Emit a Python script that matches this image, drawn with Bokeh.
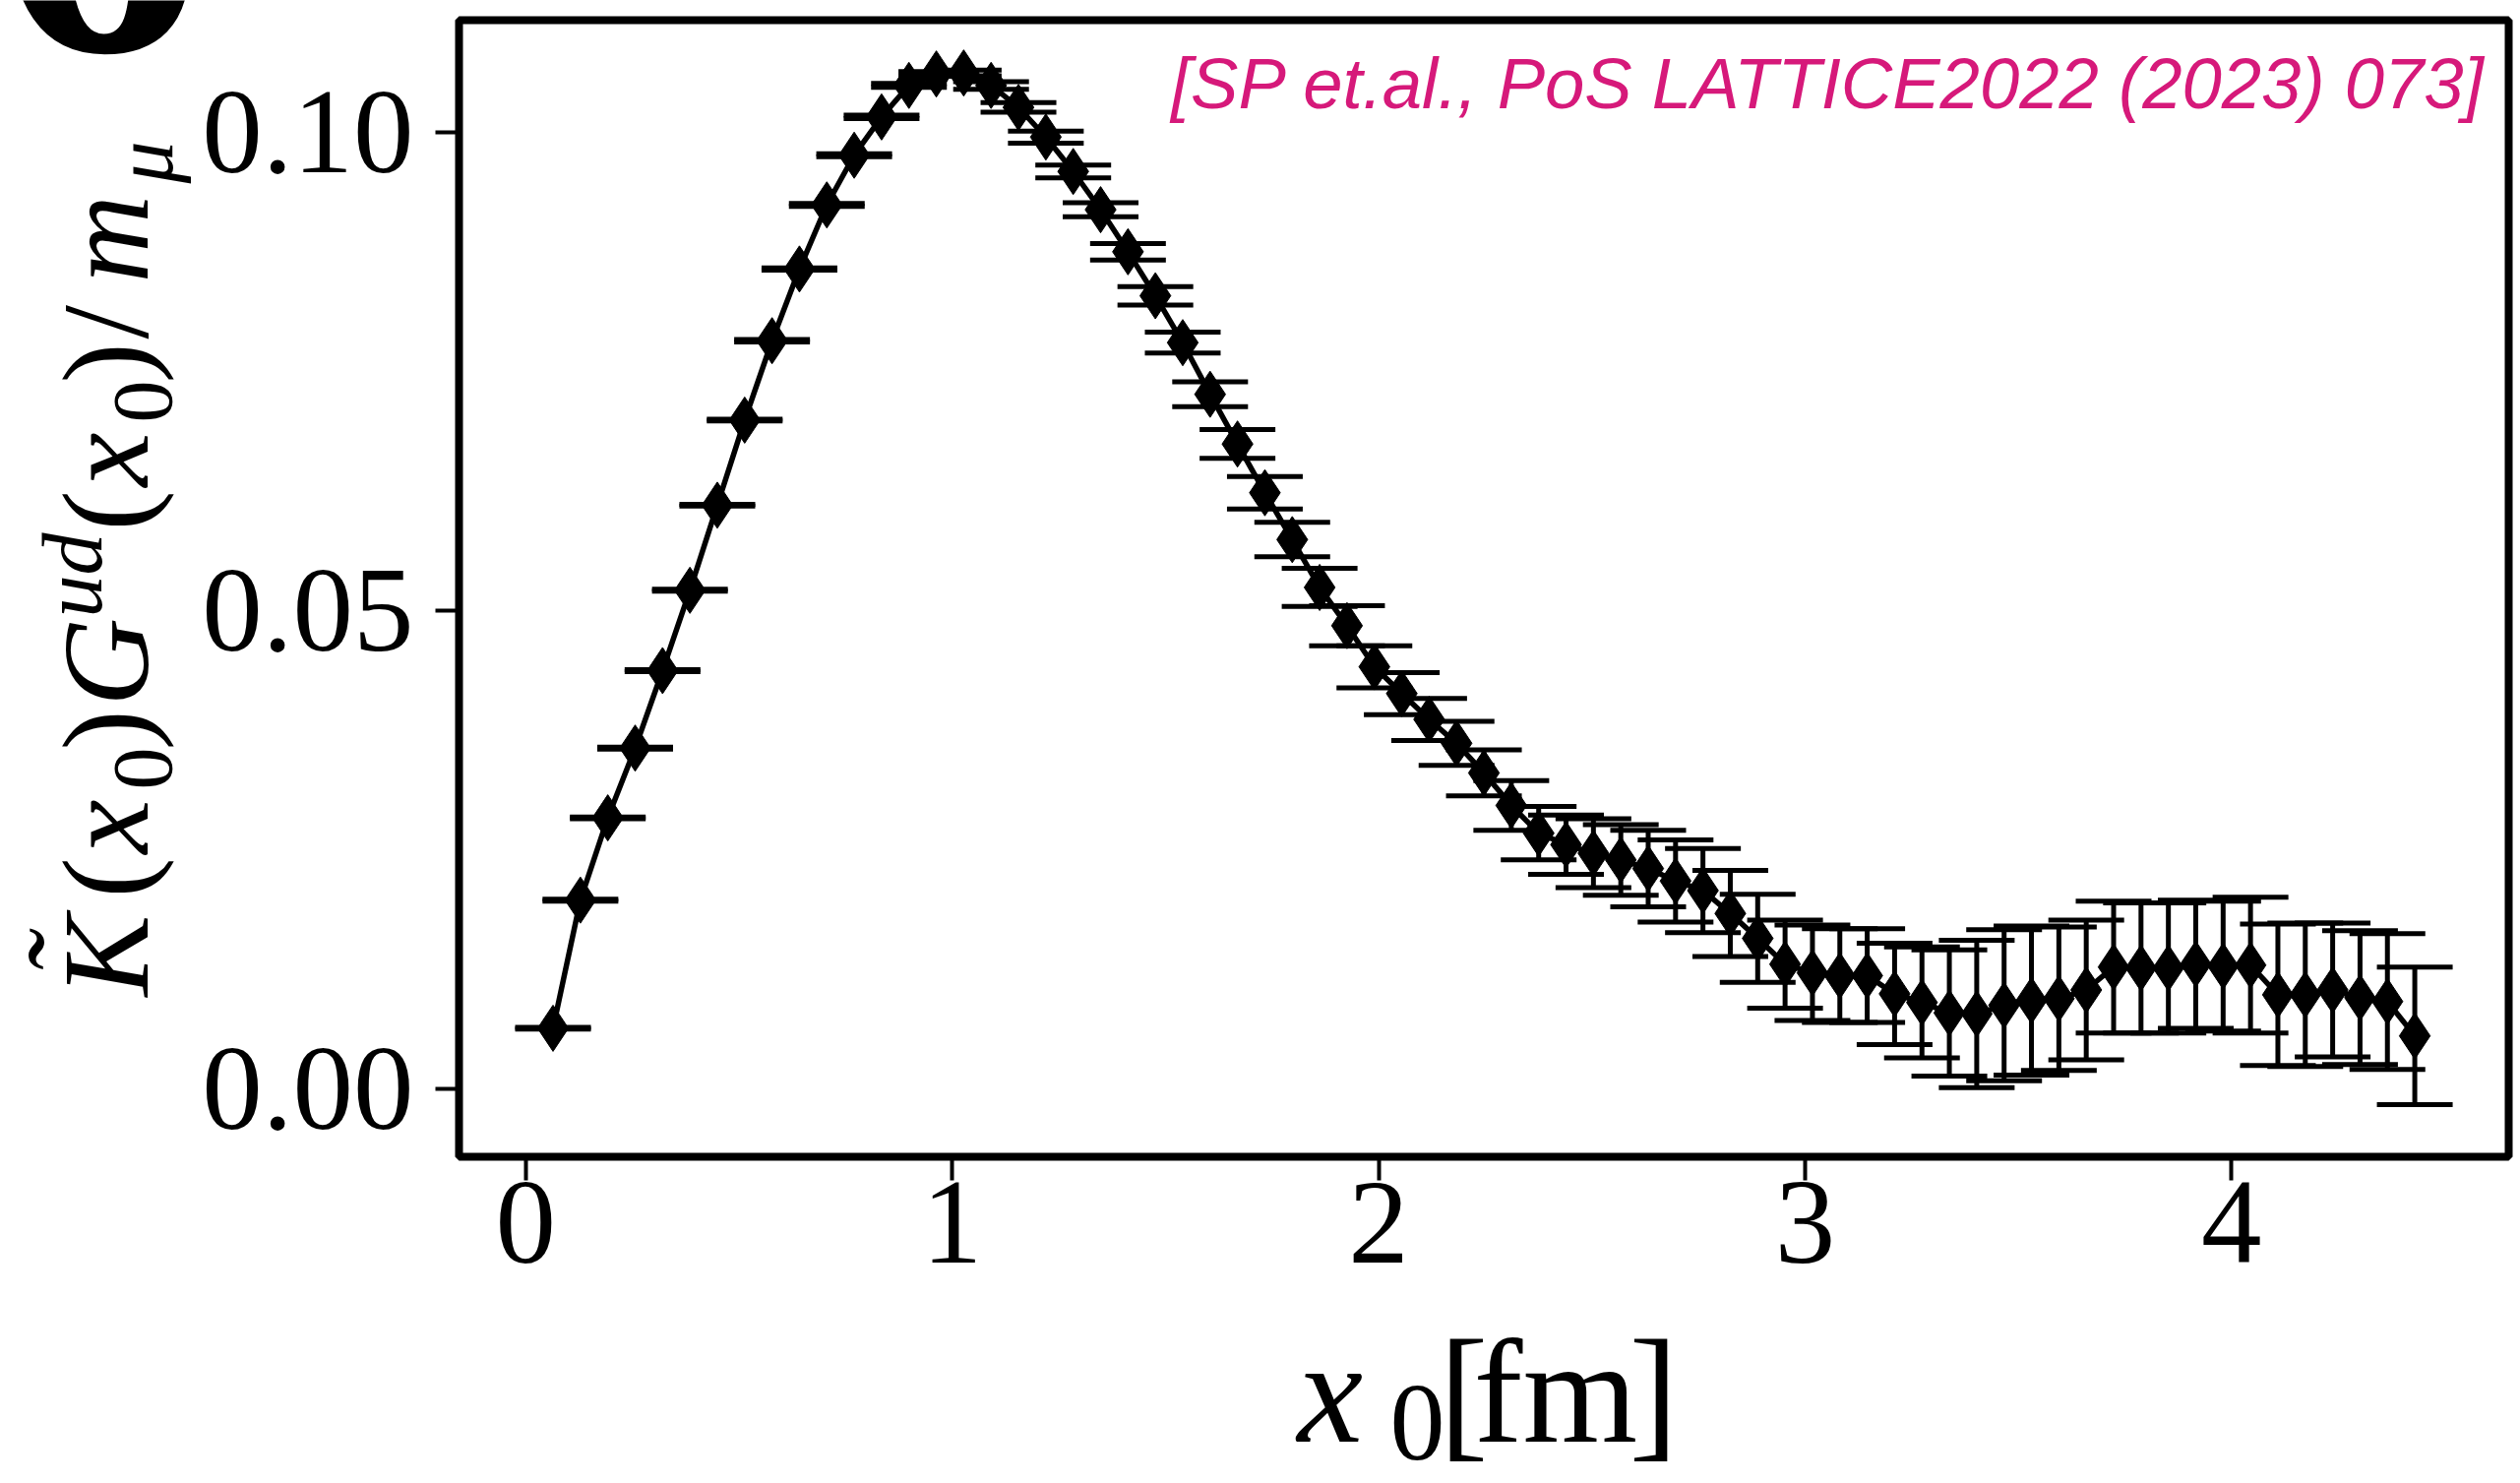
import math

from bokeh.plotting import figure
from bokeh.models import Range1d, Label, FixedTicker, PrintfTickFormatter, BoxAnnotation
from bokeh.embed import file_html
from bokeh.resources import INLINE

# Euclidean time x0 in fm (one entry per lattice time slice)
x0_fm = [
    0.0642, 0.1284, 0.1926, 0.2568, 0.3210, 0.3852, 0.4494, 0.5136, 0.5778, 0.6420,
    0.7062, 0.7704, 0.8346, 0.8988, 0.9630, 1.0272, 1.0914, 1.1556, 1.2198, 1.2840,
    1.3482, 1.4124, 1.4766, 1.5408, 1.6050, 1.6692, 1.7334, 1.7976, 1.8618, 1.9260,
    1.9902, 2.0544, 2.1186, 2.1828, 2.2470, 2.3112, 2.3754, 2.4396, 2.5038, 2.5680,
    2.6322, 2.6964, 2.7606, 2.8248, 2.8890, 2.9532, 3.0174, 3.0816, 3.1458, 3.2100,
    3.2742, 3.3384, 3.4026, 3.4668, 3.5310, 3.5952, 3.6594, 3.7236, 3.7878, 3.8520,
    3.9162, 3.9804, 4.0446, 4.1088, 4.1730, 4.2372, 4.3014, 4.3656, 4.4298,
]

# Integrand K(x0) G^ud(x0) / m_mu
integrand = [
    0.0063, 0.0197, 0.0283, 0.0356, 0.0437, 0.0521, 0.0610, 0.0699, 0.0782, 0.0857,
    0.0924, 0.0976, 0.1016, 0.1049, 0.1061, 0.1062, 0.1049, 0.1026, 0.0995, 0.0959,
    0.0919, 0.0875, 0.0829, 0.0780, 0.0726, 0.0674, 0.0623, 0.0574, 0.0524, 0.0484,
    0.0441, 0.0413, 0.0386, 0.0361, 0.0330, 0.0296, 0.0267, 0.0255, 0.0246, 0.0239,
    0.0230, 0.0217, 0.0207, 0.0183, 0.0157, 0.0130, 0.0121, 0.0118, 0.0118, 0.0099,
    0.0090, 0.0079, 0.0078, 0.0087, 0.0092, 0.0094, 0.0103, 0.0127, 0.0126, 0.0126,
    0.0130, 0.0128, 0.0129, 0.0098, 0.0098, 0.0103, 0.0095, 0.0091, 0.0055,
]

# Statistical uncertainty of the integrand
integrand_err = [
    0.0001, 0.0001, 0.0001, 0.0001, 0.0001, 0.0001, 0.0001, 0.0001, 0.00012, 0.00012,
    0.00015, 0.00015, 0.00018, 0.0002, 0.00025, 0.0003, 0.0004, 0.0005, 0.00063, 0.00067,
    0.00074, 0.00086, 0.00096, 0.0011, 0.0013, 0.0015, 0.0017, 0.0018, 0.0020, 0.0021,
    0.0022, 0.0022, 0.0022, 0.0023, 0.0024, 0.0026, 0.0028, 0.0031, 0.0036, 0.0037,
    0.0040, 0.0043, 0.0044, 0.0045, 0.0046, 0.0046, 0.0050, 0.0049, 0.0049, 0.0053,
    0.0058, 0.0066, 0.0077, 0.0079, 0.0078, 0.0075, 0.0073, 0.0069, 0.0068, 0.0068,
    0.0067, 0.0068, 0.0071, 0.0074, 0.0075, 0.0070, 0.0070, 0.0071, 0.0072,
]

x_ticks = [0, 1, 2, 3, 4]
y_ticks = [0.0, 0.05, 0.10]
reference_note = "[SP et.al., PoS LATTICE2022 (2023) 073]"

# Canvas geometry: the data frame spans the whole canvas so that texts
# placed around the axes box are not clipped; the axes box is drawn inside.
W, H = 2561, 1507
PX_PER_FM = 433.4           # horizontal pixels per fm
PX_PER_UNIT = 9717.0        # vertical pixels per unit of the integrand
X_ZERO_PX, Y_ZERO_PX = 533.7, 1105.6

XA = -X_ZERO_PX / PX_PER_FM
XB = (W - X_ZERO_PX) / PX_PER_FM
YT = Y_ZERO_PX / PX_PER_UNIT
YB = (Y_ZERO_PX - H) / PX_PER_UNIT


def dx(px):
    """canvas pixel column -> data x"""
    return XA + px / W * (XB - XA)


def dy(py):
    """canvas pixel row -> data y"""
    return YT - py / H * (YT - YB)


# axes box edges (pixel rows/columns of the box lines)
BOX_L, BOX_R, BOX_T, BOX_B = 466, 2549, 20, 1175
X0, X1 = dx(BOX_L), dx(BOX_R)
Y0, Y1 = dy(BOX_B), dy(BOX_T)

p = figure(
    width=W, height=H, output_backend="svg", toolbar_location=None,
    x_range=Range1d(XA, XB), y_range=Range1d(YB, YT),
    min_border=0, min_border_left=0, min_border_right=0,
    min_border_top=0, min_border_bottom=0,
)
p.title.visible = False
p.background_fill_color = "white"
p.border_fill_color = "white"
p.grid.visible = False
p.outline_line_color = None

p.xaxis.fixed_location = Y0
p.yaxis.fixed_location = X0
p.xaxis.ticker = FixedTicker(ticks=x_ticks)
p.yaxis.ticker = FixedTicker(ticks=y_ticks)
p.xaxis.formatter = PrintfTickFormatter(format="%d")
p.yaxis.formatter = PrintfTickFormatter(format="%.2f")
for ax in p.axis:
    ax.axis_line_color = None
    ax.major_tick_in = 0
    ax.major_tick_out = 24
    ax.major_tick_line_width = 4
    ax.major_tick_line_color = "black"
    ax.minor_tick_line_color = None
    ax.major_label_text_font = "Liberation Serif"
    ax.major_label_text_font_size = "123px"
    ax.major_label_text_color = "black"
p.yaxis.major_label_standoff = 22
p.xaxis.major_label_standoff = 2

# error bars with wide caps
lo = [v - e for v, e in zip(integrand, integrand_err)]
hi = [v + e for v, e in zip(integrand, integrand_err)]
p.segment(x0=x0_fm, y0=lo, x1=x0_fm, y1=hi, line_color="black", line_width=5)
p.scatter(x0_fm, lo, marker="dash", size=77, line_color="black", line_width=5)
p.scatter(x0_fm, hi, marker="dash", size=77, line_color="black", line_width=5)

# connecting line and diamond markers
p.line(x0_fm, integrand, line_color="black", line_width=5.5)
p.scatter(x0_fm, integrand, marker="diamond", size=47,
          fill_color="black", line_color="black", line_width=1)

# axes box
p.add_layout(BoxAnnotation(left=X0, right=X1, bottom=Y0, top=Y1,
                           fill_color=None, fill_alpha=0.0,
                           line_color="black", line_alpha=1.0, line_width=8))

BASELINE_SHIFT = 0.36   # em offset between requested and drawn baseline


def put(text, px, py, size, style="normal", angle=0.0, font="Liberation Serif",
        color="black", align="left"):
    """place a text whose baseline starts at canvas pixel (px, py)"""
    if angle == 0.0:
        py = py - BASELINE_SHIFT * size
    else:
        px = px - BASELINE_SHIFT * size
    p.add_layout(Label(
        x=dx(px), y=dy(py), text=text, angle=angle,
        text_font=font, text_font_style=style, text_font_size=f"{size}px",
        text_color=color, text_align=align, text_baseline="alphabetic",
    ))


# citation note
put(reference_note, 2526, 110, 72.5, "italic", font="Liberation Sans",
    color="#D6197A", align="right")

# x-axis label  x_0[fm]
put("x", 1318, 1467, 150, "italic")
put("0", 1412, 1486, 112)
put("[", 1462, 1467, 150)
put("fm", 1497, 1467, 150)
put("]", 1655, 1467, 150)

# y-axis label  K~(x_0) G^ud(x_0) / m_mu, reading bottom to top
up = math.pi / 2
base, sub_base, sup_base = 153, 176, 104
put("K", base, 1012, 124, "italic", up)
put("\u02dc", 116, 992, 124, "italic", up)
put("(", base, 912, 124, "normal", up)
put("x", base, 867, 124, "italic", up)
put("0", sub_base, 802, 86, "normal", up)
put(")", base, 762, 124, "normal", up)
put("G", base, 717, 124, "italic", up)
put("ud", sup_base, 627, 86, "italic", up)
put("(", base, 539, 124, "normal", up)
put("x", base, 494, 124, "italic", up)
put("0", sub_base, 429, 86, "normal", up)
put(")", base, 389, 124, "normal", up)
put("/", base, 344, 124, "normal", up)
put("m", base, 287, 124, "italic", up)
put("\u03bc", sub_base, 186, 86, "italic", up)

# panel letter, mostly above the canvas
put("6", -6, 64, 420, "bold")

open("out.html", "w").write(file_html(p, INLINE))
